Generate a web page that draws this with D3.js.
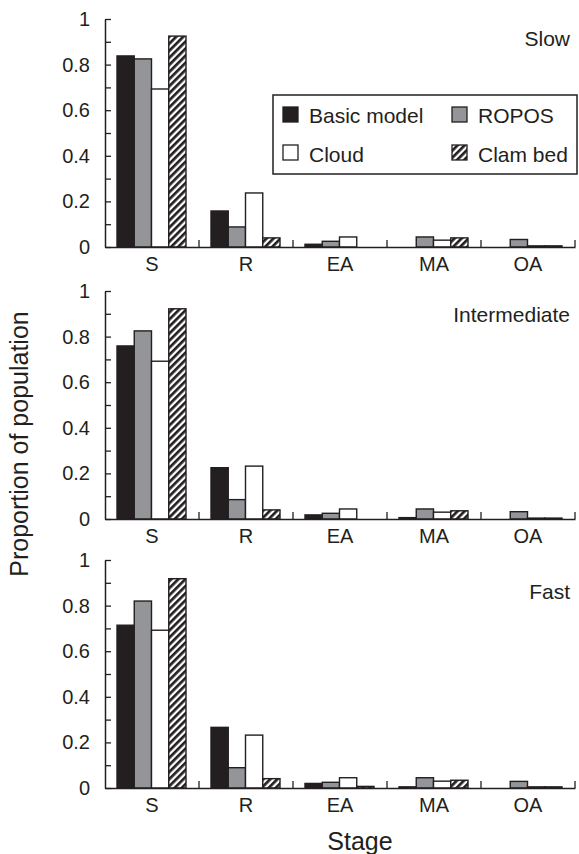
<!DOCTYPE html>
<html>
<head>
<meta charset="utf-8">
<script src="https://cdn.jsdelivr.net/npm/d3@7"></script>
<style>
  html, body { margin: 0; padding: 0; background: #fff; }
  svg { display: block; }
  text { font-family: "Liberation Sans", Arial, Helvetica, sans-serif; fill: #231f20; }
</style>
</head>
<body>
<svg id="chart" width="579" height="854"></svg>
<script>
// ---------------- data ----------------
const categories = ["S", "R", "EA", "MA", "OA"];
const seriesNames = ["Basic model", "ROPOS", "Cloud", "Clam bed"];
const panelNames = ["Slow", "Intermediate", "Fast"];
const yTickValues = [0, 0.1, 0.2, 0.3, 0.4, 0.5, 0.6, 0.7, 0.8, 0.9, 1];
const yTickLabels = ["0", "", "0.2", "", "0.4", "", "0.6", "", "0.8", "", "1"];

const basicSlow = [0.838, 0.158, 0.012, 0, 0];
const roposSlow = [0.825, 0.088, 0.025, 0.044, 0.033];
const cloudSlow = [0.693, 0.237, 0.044, 0.030, 0.005];
const clamSlow  = [0.925, 0.040, 0, 0.040, 0.005];

const basicIntermediate = [0.759, 0.225, 0.018, 0.006, 0];
const roposIntermediate = [0.825, 0.085, 0.025, 0.044, 0.032];
const cloudIntermediate = [0.692, 0.232, 0.044, 0.030, 0.004];
const clamIntermediate  = [0.922, 0.040, 0, 0.036, 0.004];

const basicFast = [0.714, 0.266, 0.020, 0.005, 0];
const roposFast = [0.820, 0.089, 0.025, 0.045, 0.029];
const cloudFast = [0.692, 0.232, 0.045, 0.030, 0.005];
const clamFast  = [0.918, 0.041, 0.007, 0.034, 0.005];

const panelSeries = [
  [basicSlow, roposSlow, cloudSlow, clamSlow],
  [basicIntermediate, roposIntermediate, cloudIntermediate, clamIntermediate],
  [basicFast, roposFast, cloudFast, clamFast]
];

// ---------------- layout / style ----------------
const INK = "#231f20";
const fills = [INK, "#939598", "#ffffff", "url(#hatch)"];
const panelBoxes = [
  { top: 19,  bottom: 247, titleY: 46 },
  { top: 291, bottom: 519, titleY: 322 },
  { top: 560, bottom: 788, titleY: 599 }
];
const xLeft = 105, xRight = 575;

const svg = d3.select("#chart");

// hatch pattern
const defs = svg.append("defs");
const pat = defs.append("pattern")
  .attr("id", "hatch")
  .attr("patternUnits", "userSpaceOnUse")
  .attr("width", 5).attr("height", 5)
  .attr("patternTransform", "rotate(45)");
pat.append("rect").attr("width", 5).attr("height", 5).attr("fill", "#fff");
pat.append("rect").attr("x", 0).attr("y", 0).attr("width", 2.7).attr("height", 5).attr("fill", INK);

const x0 = d3.scaleBand().domain(categories).range([xLeft, xRight]).paddingInner(0).paddingOuter(0);
const x1 = d3.scaleBand().domain(d3.range(seriesNames.length)).range([12, 81]).padding(0);

panelBoxes.forEach((box, p) => {
  const y = d3.scaleLinear().domain([0, 1]).range([box.bottom, box.top]);
  const g = svg.append("g");

  // bars
  const series = panelSeries[p];
  const groups = g.selectAll("g.cat")
    .data(categories)
    .join("g")
    .attr("class", "cat")
    .attr("transform", c => `translate(${x0(c)},0)`);

  groups.selectAll("rect")
    .data(c => series.map((vals, si) => ({ si, v: vals[categories.indexOf(c)] })))
    .join("rect")
    .attr("x", d => x1(d.si))
    .attr("width", x1.bandwidth())
    .attr("y", d => y(d.v))
    .attr("height", d => Math.max(0, y(0) - y(d.v)))
    .attr("fill", d => fills[d.si])
    .attr("stroke", d => d.v > 0 ? INK : "none")
    .attr("stroke-width", 1.4);

  // y axis (ticks inward)
  const yAxis = d3.axisLeft(y)
    .tickValues(yTickValues)
    .tickFormat((d, i) => yTickLabels[i])
    .tickSizeInner(-6)
    .tickSizeOuter(0)
    .tickPadding(15);
  const ya = g.append("g").attr("transform", `translate(${xLeft},0)`).call(yAxis);
  ya.select(".domain").attr("stroke", INK).attr("stroke-width", 1.5);
  ya.selectAll(".tick line").attr("stroke", INK).attr("stroke-width", 1.3);
  ya.selectAll(".tick text").attr("font-size", 20).attr("font-family", null).style("fill", INK);

  // x axis: baseline + category labels
  const xAxis = d3.axisBottom(x0).tickSize(0).tickPadding(10);
  const xa = g.append("g").attr("transform", `translate(0,${box.bottom})`).call(xAxis);
  xa.select(".domain").attr("stroke", INK).attr("stroke-width", 1.5);
  xa.selectAll(".tick text").attr("font-size", 20).attr("font-family", null).attr("dy", "0.71em").style("fill", INK);

  // boundary ticks (upward)
  const bounds = categories.slice(1).map(c => x0(c)).concat([x0.range()[1]]);
  g.selectAll("line.bound")
    .data(bounds)
    .join("line")
    .attr("class", "bound")
    .attr("x1", d => d).attr("x2", d => d)
    .attr("y1", box.bottom).attr("y2", box.bottom - 7)
    .attr("stroke", INK).attr("stroke-width", 1.3);

  // panel title
  g.append("text")
    .attr("x", 570)
    .attr("y", box.titleY)
    .attr("text-anchor", "end")
    .attr("font-size", 21)
    .text(panelNames[p]);
});

// legend
const lg = svg.append("g");
lg.append("rect")
  .attr("x", 273).attr("y", 95).attr("width", 304).attr("height", 79)
  .attr("fill", "#fff").attr("stroke", INK).attr("stroke-width", 1.5);
const legendPos = [
  { sx: 283, sy: 107, tx: 309, ty: 123 },
  { sx: 452, sy: 107, tx: 478, ty: 123 },
  { sx: 283, sy: 145, tx: 309, ty: 162 },
  { sx: 452, sy: 145, tx: 478, ty: 162 }
];
seriesNames.forEach((name, i) => {
  const pos = legendPos[i];
  lg.append("rect")
    .attr("x", pos.sx).attr("y", pos.sy).attr("width", 15).attr("height", 15)
    .attr("fill", fills[i]).attr("stroke", INK).attr("stroke-width", 1.3);
  lg.append("text")
    .attr("x", pos.tx).attr("y", pos.ty)
    .attr("font-size", 21)
    .text(name);
});

// axis titles
svg.append("text")
  .attr("transform", "translate(28,444) rotate(-90)")
  .attr("text-anchor", "middle")
  .attr("font-size", 25)
  .text("Proportion of population");

svg.append("text")
  .attr("x", 360).attr("y", 850)
  .attr("text-anchor", "middle")
  .attr("font-size", 25)
  .text("Stage");
</script>
</body>
</html>
